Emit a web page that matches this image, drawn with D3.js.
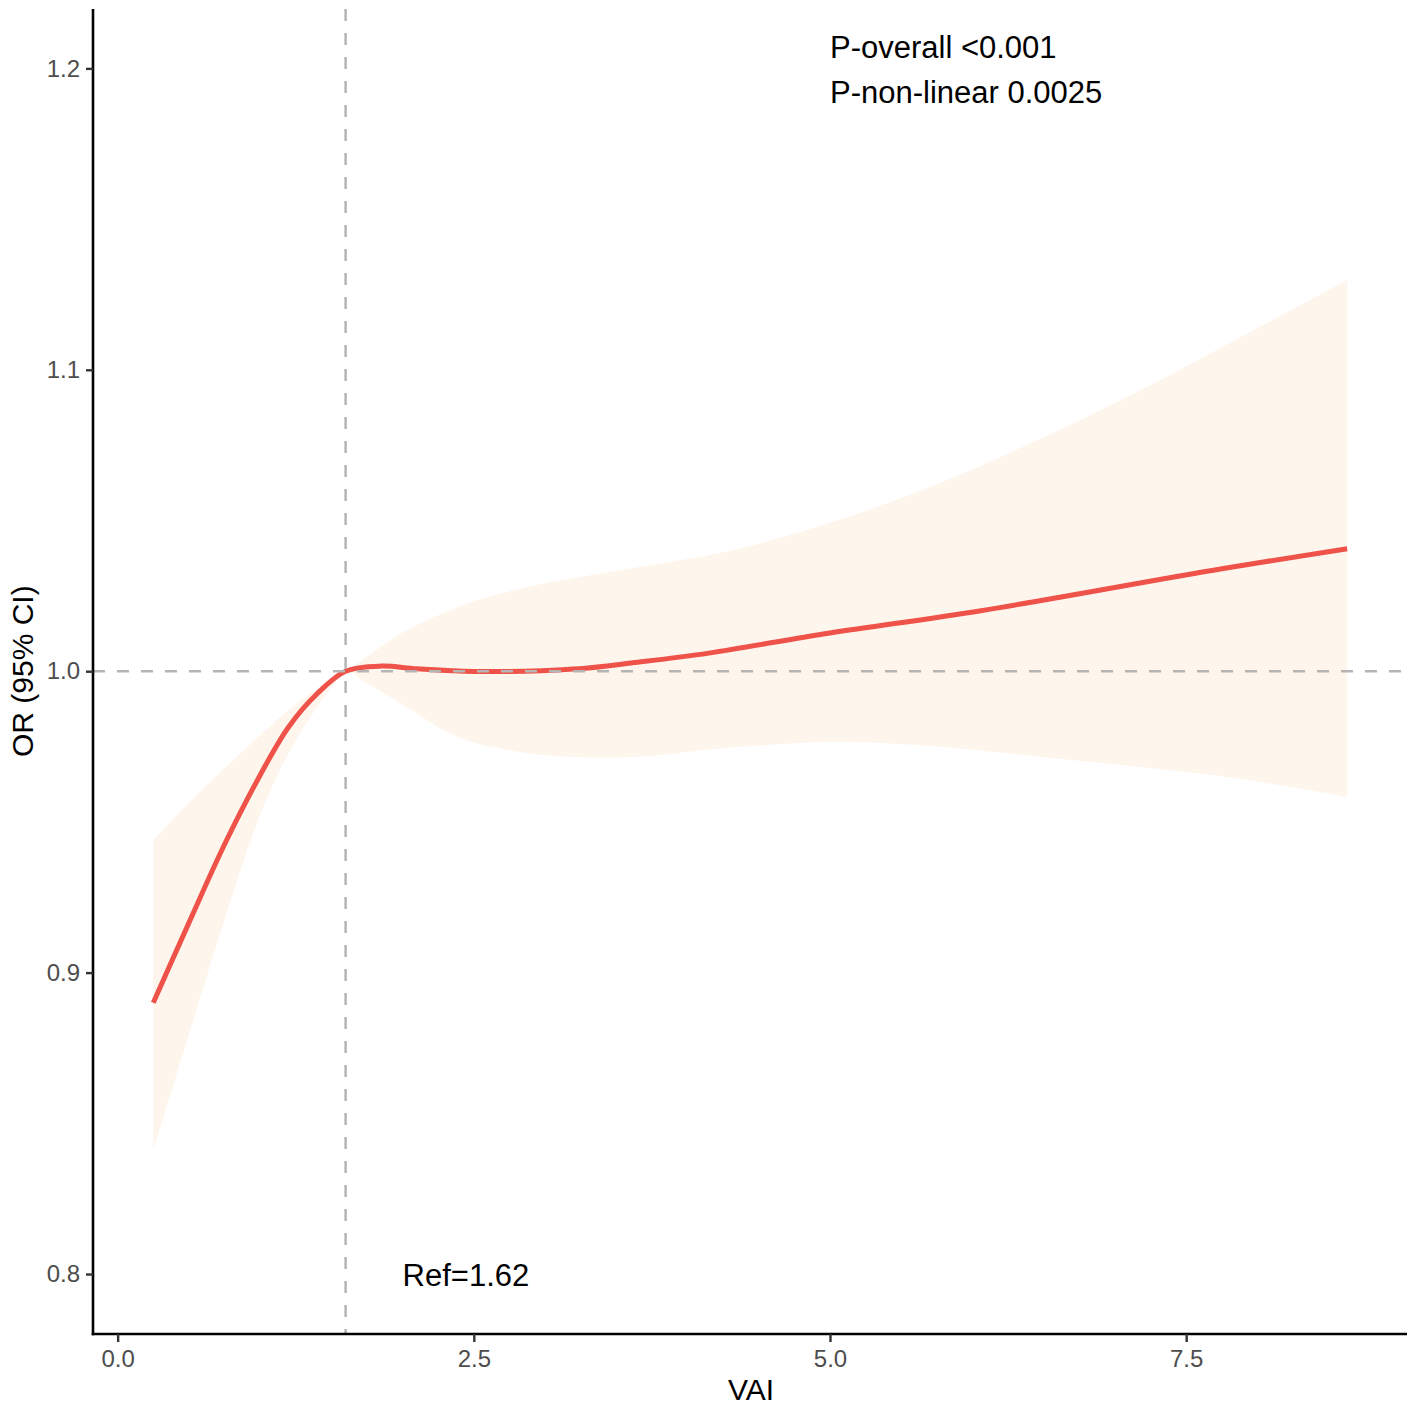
<!DOCTYPE html>
<html>
<head>
<meta charset="utf-8">
<script src="https://cdn.jsdelivr.net/npm/d3@7"></script>
<style>
  body { margin: 0; background: #ffffff; }
  text { font-family: "Liberation Sans", Arial, sans-serif; }
</style>
</head>
<body>
<div id="chart"></div>
<script>
// fitted curve (VAI vs OR)
var curveX = [0.25, 0.5, 0.75, 1.0, 1.2, 1.4, 1.6, 1.85, 2.1, 2.5, 3.2, 3.65, 4.15, 5.0, 6.05, 7.75, 8.63];
var curveOR = [0.890, 0.9165, 0.9425, 0.9655, 0.9815, 0.9925, 1.000, 1.0017, 1.0008, 0.9999, 1.0007, 1.003, 1.006, 1.0127, 1.020, 1.034, 1.0406];

// 95% CI ribbon
var ciX = [0.25, 0.5, 0.75, 1.0, 1.2, 1.4, 1.5, 1.6, 1.75, 2.0, 2.4, 2.75, 3.1, 3.65, 4.15, 4.4, 5.05, 5.75, 6.45, 7.15, 7.85, 8.63];
var ciLower = [0.841, 0.8795, 0.9175, 0.9524, 0.9728, 0.9881, 0.9945, 1.0, 0.996, 0.9889, 0.9779, 0.9738, 0.9718, 0.9716, 0.974, 0.975, 0.9766, 0.975, 0.9717, 0.9684, 0.9645, 0.9583];
var ciUpper = [0.944, 0.9563, 0.9678, 0.9787, 0.9872, 0.9941, 0.9972, 1.0, 1.0048, 1.0128, 1.0215, 1.0265, 1.0300, 1.0345, 1.0385, 1.041, 1.050, 1.062, 1.0765, 1.0925, 1.110, 1.1298];

var xTicks = [0, 2.5, 5, 7.5];
var yTicks = [0.8, 0.9, 1.0, 1.1, 1.2];
var refVAI = 1.6;       // where the dashed reference line sits
var refLabel = "Ref=1.62";
var statLines = ["P-overall <0.001", "P-non-linear 0.0025"];

var width = 1417, height = 1411;
var margin = {top: 9, right: 10, bottom: 77, left: 93};
var plotW = width - margin.left - margin.right;
var plotH = height - margin.top - margin.bottom;

var svg = d3.select("#chart").append("svg")
    .attr("width", width)
    .attr("height", height);

var g = svg.append("g")
    .attr("transform", "translate(" + margin.left + "," + margin.top + ")");

var x = d3.scaleLinear().domain([-0.173, 9.05]).range([0, plotW]);
var y = d3.scaleLinear().domain([0.7801, 1.2197]).range([plotH, 0]);

// ribbon
var ciData = ciX.map(function(v, i) { return {x: v, lo: ciLower[i], hi: ciUpper[i]}; });
var area = d3.area()
    .x(function(d) { return x(d.x); })
    .y0(function(d) { return y(d.lo); })
    .y1(function(d) { return y(d.hi); })
    .curve(d3.curveCatmullRom.alpha(0.5));
g.append("path")
    .datum(ciData)
    .attr("d", area)
    .attr("fill", "#fef5ec");

// fitted line
var lineData = curveX.map(function(v, i) { return {x: v, y: curveOR[i]}; });
var line = d3.line()
    .x(function(d) { return x(d.x); })
    .y(function(d) { return y(d.y); })
    .curve(d3.curveCatmullRom.alpha(0.5));
g.append("path")
    .datum(lineData)
    .attr("d", line)
    .attr("fill", "none")
    .attr("stroke", "#ee5249")
    .attr("stroke-width", 5);

// reference lines (drawn on top, like the original)
g.append("line")
    .attr("x1", 0).attr("x2", plotW)
    .attr("y1", y(1)).attr("y2", y(1))
    .attr("stroke", "#b5b5b5")
    .attr("stroke-width", 2.5)
    .attr("stroke-dasharray", "12,12");
g.append("line")
    .attr("x1", x(refVAI)).attr("x2", x(refVAI))
    .attr("y1", 0).attr("y2", plotH)
    .attr("stroke", "#b5b5b5")
    .attr("stroke-width", 2.5)
    .attr("stroke-dasharray", "12,12");

// axes
var xAxis = d3.axisBottom(x).tickValues(xTicks).tickFormat(d3.format(".1f")).tickSize(8).tickPadding(8).tickSizeOuter(0);
var yAxis = d3.axisLeft(y).tickValues(yTicks).tickFormat(d3.format(".1f")).tickSize(7).tickPadding(6).tickSizeOuter(0);

var gx = g.append("g").attr("transform", "translate(0," + plotH + ")").call(xAxis);
var gy = g.append("g").call(yAxis);

[gx, gy].forEach(function(ax) {
  ax.select(".domain").attr("stroke", "#000").attr("stroke-width", 2.6);
  ax.selectAll(".tick line").attr("stroke", "#333").attr("stroke-width", 2.4);
  ax.selectAll(".tick text")
    .attr("fill", "#4d4d4d")
    .style("font-size", "24px")
    .style("font-family", "'Liberation Sans', Arial, sans-serif");
});
// stretch domain paths to the corner
gx.select(".domain").attr("d", "M-1.3,0H" + plotW);
gy.select(".domain").attr("d", "M0,0V" + (plotH + 1.3));

// axis titles
svg.append("text")
    .attr("x", 751)
    .attr("y", 1400)
    .attr("text-anchor", "middle")
    .style("font-size", "30px")
    .attr("fill", "#000")
    .text("VAI");

svg.append("text")
    .attr("transform", "translate(33," + (margin.top + y(1)) + ") rotate(-90)")
    .attr("text-anchor", "middle")
    .style("font-size", "30px")
    .attr("fill", "#000")
    .text("OR (95% CI)");

// annotations
g.selectAll(".stat")
    .data(statLines)
  .enter().append("text")
    .attr("class", "stat")
    .attr("x", x(5))
    .attr("y", function(d, i) { return 49 + i * 45; })
    .style("font-size", "31px")
    .attr("fill", "#000")
    .text(function(d) { return d; });

g.append("text")
    .attr("x", x(2))
    .attr("y", y(0.8) + 12)
    .style("font-size", "31px")
    .attr("fill", "#000")
    .text(refLabel);
</script>
</body>
</html>
